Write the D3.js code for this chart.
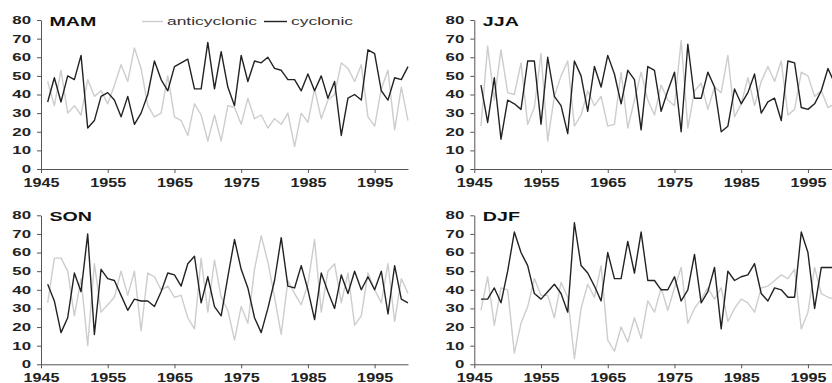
<!DOCTYPE html>
<html>
<head>
<meta charset="utf-8">
<script src="https://cdn.jsdelivr.net/npm/d3@7"></script>
<style>
  body { margin: 0; background: #fff; }
  svg { display: block; font-family: "Liberation Sans", Arial, sans-serif; }
</style>
</head>
<body>
<div id="container"></div>
<script>
const years = d3.range(1946, 2001);
const yTicks = [0, 10, 20, 30, 40, 50, 60, 70, 80];
const xTicks = [1945, 1955, 1965, 1975, 1985, 1995];
const seriesNames = ["anticyclonic", "cyclonic"];

const mamCyc = [36, 49, 36, 50, 48, 61, 22, 26, 39, 41, 37, 28, 39, 24, 30, 40, 58, 48, 42, 55,
    57, 59, 43, 43, 68, 43, 63, 44, 34, 61, 47, 58, 57, 60, 54, 53, 48, 48, 42, 51,
    42, 50, 38, 47, 18, 38, 40, 37, 64, 62, 42, 37, 49, 48, 55];
const mamAnti = [47, 34, 53, 30, 34, 29, 48, 39, 42, 35, 45, 56, 47, 65, 54, 34, 28, 30, 50, 28,
    26, 18, 35, 29, 15, 29, 15, 34, 33, 24, 38, 27, 29, 22, 27, 24, 30, 12, 30, 25,
    43, 27, 37, 40, 57, 54, 47, 56, 28, 23, 43, 53, 21, 44, 26];

const jjaCyc = [45, 25, 49, 16, 37, 35, 32, 58, 58, 24, 60, 39, 34, 19, 58, 50, 31, 55, 44, 61,
    51, 35, 53, 48, 21, 55, 53, 31, 42, 52, 20, 67, 38, 38, 52, 44, 20, 23, 43, 35,
    41, 51, 30, 36, 38, 26, 58, 57, 33, 32, 35, 42, 54, 46, 40];
const jjaAnti = [23, 66, 37, 64, 41, 40, 57, 24, 33, 62, 15, 39, 50, 58, 23, 29, 42, 34, 39, 23,
    24, 52, 22, 37, 52, 37, 29, 45, 37, 34, 69, 22, 42, 46, 32, 44, 41, 61, 28, 35,
    49, 34, 47, 55, 47, 58, 29, 32, 52, 50, 39, 42, 33, 35, 30];

const sonCyc = [43, 34, 17, 25, 49, 39, 70, 16, 51, 46, 45, 37, 29, 35, 34, 34, 31, 39, 49, 48,
    42, 54, 58, 33, 47, 31, 26, 47, 67, 51, 41, 25, 17, 30, 45, 68, 42, 41, 53, 40,
    24, 49, 39, 30, 48, 38, 50, 40, 47, 40, 50, 27, 53, 35, 33];
const sonAnti = [33, 57, 57, 50, 26, 46, 10, 54, 28, 32, 36, 50, 37, 50, 18, 49, 47, 40, 42, 36,
    37, 25, 19, 57, 28, 56, 36, 29, 13, 31, 22, 51, 69, 55, 36, 16, 45, 38, 32, 43,
    67, 28, 50, 54, 33, 49, 21, 26, 49, 40, 33, 54, 23, 46, 38];

const djfCyc = [35, 35, 41, 33, 50, 71, 60, 53, 38, 35, 39, 43, 38, 28, 76, 53, 49, 42, 34, 60,
    46, 46, 66, 49, 71, 45, 45, 40, 40, 47, 34, 40, 59, 33, 39, 52, 19, 50, 45, 47,
    48, 54, 38, 34, 41, 40, 36, 36, 71, 60, 30, 52, 52, 52, 52];
const djfAnti = [29, 47, 21, 41, 40, 6, 22, 31, 46, 37, 37, 25, 44, 36, 3, 30, 43, 36, 53, 13,
    7, 20, 12, 25, 14, 34, 28, 41, 29, 41, 52, 22, 30, 35, 41, 35, 41, 23, 30, 35,
    33, 28, 41, 42, 45, 48, 46, 51, 19, 28, 52, 38, 36, 35, 33];

var width = 832, height = 383;
var W = 367, H = 149;
var grey = "#cdcdcd", dark = "#222";

const panels = [
    { name: "MAM", anti: mamAnti, cyc: mamCyc, left: 41, top: 20, legend: true },
    { name: "JJA", anti: jjaAnti, cyc: jjaCyc, left: 474.3, top: 20 },
    { name: "SON", anti: sonAnti, cyc: sonCyc, left: 41, top: 215.3 },
    { name: "DJF", anti: djfAnti, cyc: djfCyc, left: 474.3, top: 215.3 }
];

const x = d3.scaleLinear().domain([1945, 2000]).range([0, W]);
const y = d3.scaleLinear().domain([0, 80]).range([H, 0]);

const line = d3.line()
    .x((d, i) => x(years[i]))
    .y(d => y(d));

// the source figure is stretched sideways, so widen every text
function widen(sel, k) {
    sel.each(function () {
        var w = this.getComputedTextLength();
        d3.select(this).attr("textLength", w * k).attr("lengthAdjust", "spacingAndGlyphs");
    });
}

const svg = d3.select("#container").append("svg")
    .attr("width", width)
    .attr("height", height);

panels.forEach(p => {
    const g = svg.append("g").attr("transform", `translate(${p.left},${p.top})`);

    const ya = g.append("g")
        .call(d3.axisLeft(y).tickValues(yTicks).tickSize(4).tickSizeOuter(0).tickPadding(6));
    const xa = g.append("g")
        .attr("transform", `translate(0,${H})`)
        .call(d3.axisBottom(x).tickValues(xTicks).tickSize(4).tickSizeOuter(0).tickPadding(5)
            .tickFormat(d3.format("d")));

    [ya, xa].forEach(a => {
        a.select(".domain").attr("stroke", "#555");
        a.selectAll(".tick line").attr("stroke", "#555");
        a.selectAll("text").attr("fill", "#222").attr("font-family", "Liberation Sans, Arial, sans-serif");
    });
    ya.selectAll("text").attr("font-size", 10.5).attr("font-weight", "bold");
    xa.selectAll("text").attr("font-size", 12).attr("font-weight", "bold");
    widen(ya.selectAll("text"), 1.6);
    widen(xa.selectAll("text"), 1.35);

    g.append("path")
        .datum(p.anti)
        .attr("fill", "none")
        .attr("stroke", grey)
        .attr("stroke-width", 1.4)
        .attr("stroke-linejoin", "round")
        .attr("d", line);

    g.append("path")
        .datum(p.cyc)
        .attr("fill", "none")
        .attr("stroke", dark)
        .attr("stroke-width", 1.4)
        .attr("stroke-linejoin", "round")
        .attr("d", line);

    const title = g.append("text")
        .attr("x", 8.5)
        .attr("y", 6)
        .attr("font-size", 12.5)
        .attr("font-weight", "bold")
        .attr("fill", "#111")
        .text(p.name);
    widen(title, 1.57);

    if (p.legend) {
        const lg = g.append("g").attr("transform", "translate(101,1.5)");
        lg.append("line").attr("x1", 0).attr("x2", 21).attr("stroke", grey).attr("stroke-width", 1.4);
        const t1 = lg.append("text").attr("x", 25).attr("y", 3.7)
            .attr("font-size", 11).attr("fill", "#333").text(seriesNames[0]);
        lg.append("line").attr("x1", 122).attr("x2", 145).attr("stroke", dark).attr("stroke-width", 1.4);
        const t2 = lg.append("text").attr("x", 149).attr("y", 3.7)
            .attr("font-size", 11).attr("fill", "#333").text(seriesNames[1]);
        t1.attr("textLength", 90).attr("lengthAdjust", "spacingAndGlyphs");
        t2.attr("textLength", 62).attr("lengthAdjust", "spacingAndGlyphs");
    }
});
</script>
</body>
</html>
